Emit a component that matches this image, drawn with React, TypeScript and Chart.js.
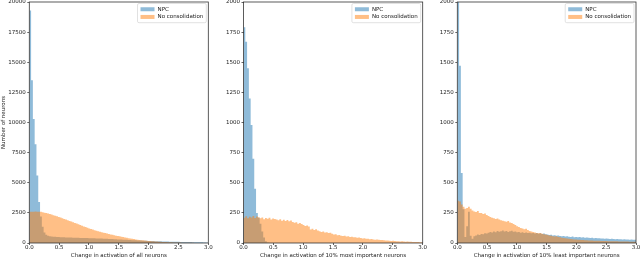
import React, { useEffect, useRef } from "react";
import { Chart, registerables } from "chart.js";

Chart.register(...registerables);

// ---------- data ----------
const BIN_WIDTH = 0.03;
const X_TICKS = [0, 0.5, 1.0, 1.5, 2.0, 2.5, 3.0];
const Y_TICKS_ALL = [0, 2500, 5000, 7500, 10000, 12500, 15000, 17500, 20000];
const Y_TICKS_10 = [0, 250, 500, 750, 1000, 1250, 1500, 1750, 2000];
const SERIES_LABELS = ["NPC", "No consolidation"];
const Y_TITLE = "Number of neurons";
const X_TITLES = [
  "Change in activation of all neurons",
  "Change in activation of 10% most important neurons",
  "Change in activation of 10% least important neurons",
];

// Panel 1: all neurons
const P1_NPC = [
  19300, 13500, 10300, 8200, 5600, 3400, 2200, 1350, 880, 680,
  600, 565, 540, 522, 510, 498, 490, 482, 474, 468,
  462, 458, 452, 449, 444, 438, 434, 430, 424, 420,
  416, 410, 406, 401, 396, 390, 386, 381, 376, 370,
  365, 360, 352, 346, 338, 331, 322, 316, 308, 300,
  292, 285, 276, 269, 260, 253, 245, 238, 230, 223,
  215, 208, 201, 193, 187, 180, 174, 168, 162, 156,
  150, 146, 140, 136, 130, 127, 122, 118, 114, 111,
  106, 103, 98, 96, 92, 89, 86, 83, 80, 77,
  74, 71, 68, 66, 62, 58, 55, 50, 44, 30,
];
const P1_NC = [
  2600, 2590, 2600, 2610, 2600, 2590, 2600, 2560, 2520, 2480,
  2440, 2400, 2360, 2310, 2260, 2210, 2160, 2110, 2060, 2000,
  1940, 1890, 1830, 1780, 1730, 1670, 1610, 1550, 1490, 1430,
  1375, 1320, 1265, 1210, 1160, 1110, 1065, 1020, 980, 940,
  900, 860, 820, 785, 750, 715, 680, 645, 610, 580,
  550, 520, 490, 460, 430, 400, 375, 350, 325, 300,
  278, 256, 236, 218, 202, 188, 175, 163, 150, 138,
  127, 117, 108, 99, 91, 83, 76, 69, 62, 56,
  50, 45, 40, 36, 32, 28, 25, 22, 19, 16,
  14, 12, 10, 9, 8, 7, 6, 5, 4, 3,
];

// Panel 2: 10% most important neurons
const P2_NPC = [
  1790, 1670, 1450, 1200, 980, 700, 450, 250, 210, 160,
  95, 45, 15, 5, 2,
];
const P2_NC = [
  210, 222, 205, 218, 212, 225, 208, 220, 214, 206,
  212, 198, 208, 202, 210, 196, 204, 200, 194, 188,
  197, 185, 192, 183, 190, 180, 186, 175, 168, 172,
  160, 165, 158, 150, 142, 146, 136, 112, 118, 108,
  114, 104, 98, 92, 95, 88, 90, 84, 86, 76,
  70, 72, 65, 67, 61, 58, 60, 54, 55, 50,
  52, 47, 48, 44, 45, 41, 38, 39, 35, 36,
  32, 33, 30, 28, 29, 26, 24, 25, 22, 21,
  20, 19, 17, 18, 16, 15, 14, 13, 14, 12,
  11, 12, 10, 10, 9, 9, 8, 8, 7, 7,
];

// Panel 3: 10% least important neurons
const P3_NPC = [
  2600, 1470, 580, 280, 50, 140, 260, 60, 35, 55,
  62, 70, 66, 75, 72, 80, 78, 85, 92, 88,
  96, 90, 100, 94, 98, 104, 95, 100, 92, 98,
  102, 94, 96, 90, 92, 86, 90, 84, 88, 82,
  86, 80, 84, 78, 82, 76, 80, 74, 78, 72,
  70, 66, 68, 62, 64, 60, 62, 58, 56, 58,
  54, 56, 52, 50, 53, 48, 50, 47, 49, 45,
  47, 44, 46, 43, 42, 44, 40, 41, 39, 40,
  37, 38, 36, 37, 35, 34, 35, 33, 32, 34,
  31, 32, 30, 31, 29, 30, 28, 29, 27, 26,
];
const P3_NC = [
  350, 345, 320, 300, 285, 290, 300, 285, 270, 262,
  258, 265, 250, 248, 240, 245, 232, 225, 215, 210,
  205, 200, 204, 195, 188, 185, 180, 176, 182, 170,
  165, 158, 150, 140, 132, 125, 120, 114, 118, 108,
  100, 96, 92, 88, 84, 80, 82, 76, 72, 70,
  66, 62, 60, 57, 54, 55, 50, 47, 44, 42,
  40, 37, 35, 34, 32, 30, 29, 28, 26, 25,
  24, 23, 22, 21, 21, 20, 19, 19, 18, 18,
  17, 17, 16, 16, 15, 15, 15, 14, 14, 14,
  13, 13, 13, 12, 12, 12, 11, 11, 11, 10,
];

// ---------- styling ----------
const NPC_COLOR = "rgba(31,119,180,0.5)";
const NC_COLOR = "rgba(255,127,14,0.5)";
const FONT_FAMILY = "'DejaVu Sans', sans-serif";
const FS = 5.5;
const TEXT_COLOR = "#222";
const W = 640;
const H = 260;

function toSteps(values: number[]) {
  const pts = values.map((v, i) => ({ x: i * BIN_WIDTH, y: v }));
  pts.push({ x: values.length * BIN_WIDTH, y: 0 });
  return pts;
}

const framePlugin = {
  id: "mplFrame",
  afterDatasetsDraw(chart: any) {
    const { ctx, chartArea: a } = chart;
    ctx.save();
    ctx.strokeStyle = "#333";
    ctx.lineWidth = 0.8;
    ctx.strokeRect(a.left, a.top, a.right - a.left, a.bottom - a.top);
    ctx.restore();
  },
};

const legendPlugin = {
  id: "mplLegend",
  afterDraw(chart: any) {
    const { ctx, chartArea: a } = chart;
    const items = [
      { label: SERIES_LABELS[0], color: NPC_COLOR },
      { label: SERIES_LABELS[1], color: NC_COLOR },
    ];
    ctx.save();
    ctx.font = `${FS}px ${FONT_FAMILY}`;
    const textW = Math.max(...items.map((it) => ctx.measureText(it.label).width));
    const pad = 3;
    const hw = 14;
    const hh = 4;
    const gap = 3;
    const rowH = FS;
    const spacing = 2.2;
    const w = pad + hw + gap + textW + pad;
    const h = pad * 2 + rowH * 2 + spacing;
    const x0 = a.right - 2 - w;
    const y0 = a.top + 1.5;
    ctx.beginPath();
    if ((ctx as any).roundRect) (ctx as any).roundRect(x0, y0, w, h, 1.5);
    else ctx.rect(x0, y0, w, h);
    ctx.fillStyle = "rgba(255,255,255,0.8)";
    ctx.fill();
    ctx.strokeStyle = "#cccccc";
    ctx.lineWidth = 0.6;
    ctx.stroke();
    items.forEach((it, r) => {
      const cy = y0 + pad + rowH / 2 + r * (rowH + spacing);
      ctx.fillStyle = it.color;
      ctx.fillRect(x0 + pad, cy - hh / 2, hw, hh);
      ctx.fillStyle = TEXT_COLOR;
      ctx.textBaseline = "middle";
      ctx.textAlign = "left";
      ctx.fillText(it.label, x0 + pad + hw + gap, cy);
    });
    ctx.restore();
  },
};

type PanelProps = {
  npc: number[];
  nc: number[];
  yTicks: number[];
  xTitle: string;
  yTitle?: string;
  left: number;
  right: number;
  yAxisWidth: number;
};

function Panel({ npc, nc, yTicks, xTitle, yTitle, left, right, yAxisWidth }: PanelProps) {
  const ref = useRef<HTMLCanvasElement | null>(null);
  useEffect(() => {
    if (!ref.current) return;
    const font = { family: FONT_FAMILY, size: FS };
    const chart = new Chart(ref.current, {
      type: "line",
      data: {
        datasets: [
          {
            label: SERIES_LABELS[1],
            data: toSteps(nc),
            stepped: "before",
            fill: "origin",
            backgroundColor: NC_COLOR,
            borderColor: "rgba(0,0,0,0)",
            borderWidth: 0,
            pointRadius: 0,
            tension: 0,
          },
          {
            label: SERIES_LABELS[0],
            data: toSteps(npc),
            stepped: "before",
            fill: "origin",
            backgroundColor: NPC_COLOR,
            borderColor: "rgba(0,0,0,0)",
            borderWidth: 0,
            pointRadius: 0,
            tension: 0,
          },
        ],
      },
      options: {
        responsive: false,
        animation: false,
        devicePixelRatio: 1,
        events: [],
        layout: {
          padding: { left: left - yAxisWidth, right: W - right, top: 2, bottom: 0 },
        },
        plugins: {
          legend: { display: false },
          tooltip: { enabled: false },
        },
        scales: {
          x: {
            type: "linear",
            min: 0,
            max: 3,
            afterBuildTicks: (s: any) => {
              s.ticks = X_TICKS.map((v) => ({ value: v }));
            },
            afterFit: (s: any) => {
              s.height = 17;
              s.paddingLeft = 0;
              s.paddingRight = 0;
            },
            grid: {
              drawOnChartArea: false,
              drawTicks: true,
              tickLength: 2,
              color: TEXT_COLOR,
              lineWidth: 0.7,
            },
            border: { display: false },
            ticks: {
              font: { ...font, lineHeight: 1 },
              color: TEXT_COLOR,
              padding: 0,
              maxRotation: 0,
              autoSkip: false,
              callback: (v: any) => Number(v).toFixed(1),
            },
            title: {
              display: true,
              text: xTitle,
              font,
              color: TEXT_COLOR,
              padding: { top: 0, bottom: 0.7 },
            },
          },
          y: {
            type: "linear",
            min: 0,
            max: yTicks[yTicks.length - 1],
            afterBuildTicks: (s: any) => {
              s.ticks = yTicks.map((v) => ({ value: v }));
            },
            afterFit: (s: any) => {
              s.width = yAxisWidth;
              s.paddingTop = 0;
              s.paddingBottom = 0;
            },
            grid: {
              drawOnChartArea: false,
              drawTicks: true,
              tickLength: 2,
              color: TEXT_COLOR,
              lineWidth: 0.7,
            },
            border: { display: false },
            ticks: {
              font,
              color: TEXT_COLOR,
              padding: 1.5,
              autoSkip: false,
              callback: (v: any) => String(v),
            },
            title: {
              display: !!yTitle,
              text: yTitle || "",
              font,
              color: TEXT_COLOR,
              padding: { top: 0, bottom: 0 },
            },
          },
        },
      } as any,
      plugins: [framePlugin, legendPlugin],
    });
    return () => chart.destroy();
  }, []);
  return (
    <canvas
      ref={ref}
      width={W}
      height={H}
      style={{ position: "absolute", left: 0, top: 0, width: W, height: H }}
    />
  );
}

export default function App() {
  return (
    <div style={{ position: "fixed", left: 0, top: 0, width: W, height: H, background: "#fff" }}>
      <Panel npc={P1_NPC} nc={P1_NC} yTicks={Y_TICKS_ALL} xTitle={X_TITLES[0]} yTitle={Y_TITLE} left={29.3} right={208.3} yAxisWidth={29.3} />
      <Panel npc={P2_NPC} nc={P2_NC} yTicks={Y_TICKS_10} xTitle={X_TITLES[1]} left={243.5} right={422.7} yAxisWidth={26} />
      <Panel npc={P3_NPC} nc={P3_NC} yTicks={Y_TICKS_10} xTitle={X_TITLES[2]} left={457.3} right={636} yAxisWidth={26} />
    </div>
  );
}
